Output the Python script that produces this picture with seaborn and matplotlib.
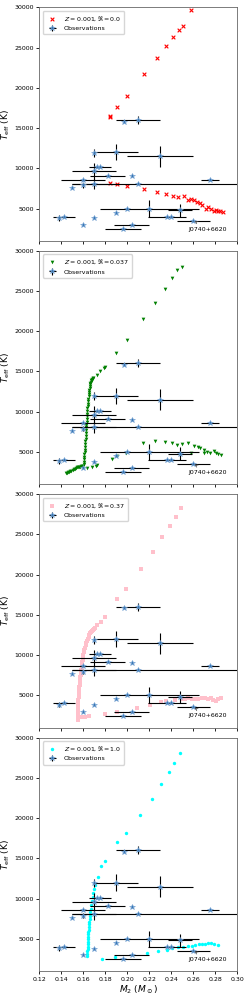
import numpy as np
import seaborn as sns
import matplotlib.pyplot as plt

# observations
obs_m2 = [0.138, 0.142, 0.160, 0.170, 0.190, 0.200, 0.220, 0.196, 0.204, 0.236, 0.240, 0.248, 0.260, 0.275,
          0.210, 0.204, 0.182, 0.172, 0.175, 0.170, 0.170, 0.160, 0.160, 0.150, 0.197, 0.210, 0.170, 0.190, 0.230]
obs_teff = [3850, 4000, 3000, 3800, 4500, 5000, 5000, 2500, 3000, 4000, 4000, 4800, 3500, 8600,
            8100, 9000, 9100, 10100, 10100, 9600, 8100, 8600, 7900, 7600, 15800, 16000, 11900, 12000, 11500]
obs_m2_lo = [0, 0.010, 0, 0, 0, 0, 0.045, 0.016, 0.016, 0.017, 0, 0.011, 0.015, 0.008,
             0.060, 0, 0.016, 0, 0.010, 0.020, 0.020, 0.020, 0, 0, 0, 0.020, 0, 0.020, 0.030]
obs_m2_hi = [0, 0.010, 0, 0, 0, 0, 0.045, 0.016, 0.016, 0.017, 0, 0.011, 0.015, 0.008,
             0.120, 0, 0.016, 0, 0.010, 0.020, 0.020, 0.020, 0, 0, 0, 0.020, 0, 0.020, 0.030]
obs_teff_err = [350, 0, 0, 0, 0, 0, 1000, 0, 0, 0, 0, 800, 0, 0,
                0, 0, 0, 0, 0, 1100, 700, 0, 300, 0, 0, 500, 500, 1000, 1300]

# R = 0.0
r0_up_m2 = [0.1839, 0.1845, 0.1909, 0.2000, 0.2152, 0.2267, 0.2351, 0.2412, 0.2467, 0.2509, 0.2579]
r0_up_teff = [16400, 16500, 17600, 19000, 21650, 23700, 25200, 26300, 27150, 27700, 29700]
r0_lo_m2 = [0.1839, 0.1909, 0.2000, 0.2155, 0.2267, 0.2349, 0.2413, 0.2464, 0.2513, 0.2549, 0.2579, 0.2610,
            0.2634, 0.2658, 0.2682, 0.2713, 0.2736, 0.2760, 0.2785, 0.2806, 0.2827, 0.2845, 0.2867]
r0_lo_teff = [8200, 8000, 7800, 7390, 7100, 6810, 6560, 6440, 6560, 6070, 6240, 6000,
              5820, 5660, 5450, 4880, 5130, 4880, 4750, 4790, 4750, 4750, 4540]

# R = 0.037
r1_track_m2 = [0.1442, 0.1452, 0.1462, 0.1472, 0.1482, 0.1492, 0.1502, 0.1512, 0.1522, 0.1532, 0.1542, 0.1552,
               0.1562, 0.1572, 0.1582, 0.1592, 0.1600, 0.1602, 0.1604, 0.1606, 0.1608, 0.1610, 0.1612, 0.1614,
               0.1615, 0.1617, 0.1618, 0.1620, 0.1621, 0.1623, 0.1624, 0.1626, 0.1627, 0.1629, 0.1630, 0.1632,
               0.1633, 0.1635, 0.1637, 0.1639, 0.1641, 0.1643, 0.1645, 0.1647, 0.1649, 0.1652, 0.1654, 0.1657,
               0.1659, 0.1662, 0.1665, 0.1669, 0.1672, 0.1676, 0.1680, 0.1685, 0.1690]
r1_track_teff = [2350, 2400, 2460, 2520, 2590, 2660, 2740, 2830, 2920, 3010, 3080, 3130,
                 3170, 3190, 3200, 3210, 3300, 3550, 3800, 4100, 4400, 4700, 5000, 5300,
                 5600, 5950, 6300, 6650, 7000, 7350, 7700, 8050, 8400, 8750, 9100, 9420,
                 9750, 10080, 10400, 10700, 11000, 11300, 11600, 11900, 12200, 12450, 12700, 12950,
                 13200, 13400, 13600, 13750, 13900, 14000, 14100, 14150, 14200]
r1_up_m2 = [0.1724, 0.1752, 0.1785, 0.1797, 0.1897, 0.1994, 0.2145, 0.2254, 0.2339, 0.2406, 0.2454, 0.2500]
r1_up_teff = [14610, 15030, 15440, 15600, 17340, 18900, 21500, 23520, 25260, 26580, 27650, 27940]
r1_lo_m2 = [0.1636, 0.1676, 0.1712, 0.1727, 0.1864, 0.1903, 0.1988, 0.2145, 0.2254, 0.2339, 0.2406, 0.2454,
            0.2500, 0.2548, 0.2579, 0.2609, 0.2639, 0.2660, 0.2694, 0.2697, 0.2721, 0.2751, 0.2785, 0.2806,
            0.2827, 0.2851]
r1_lo_teff = [2980, 3150, 3310, 3440, 4180, 4500, 4920, 6120, 6360, 6280, 6070, 5830,
              5950, 6070, 4840, 5740, 5580, 5460, 4920, 5250, 5040, 4840, 5120, 4920,
              4800, 4630]

# R = 0.37
r2_track_m2 = [0.1548, 0.1548, 0.1548, 0.1548, 0.1548, 0.1550, 0.1551, 0.1553, 0.1555, 0.1556, 0.1558, 0.1560,
               0.1561, 0.1563, 0.1564, 0.1567, 0.1570, 0.1572, 0.1573, 0.1576, 0.1579, 0.1582, 0.1585, 0.1588,
               0.1591, 0.1594, 0.1597, 0.1601, 0.1606, 0.1610, 0.1615, 0.1621, 0.1627, 0.1633, 0.1639, 0.1647,
               0.1655, 0.1662, 0.1670, 0.1679, 0.1688, 0.1697, 0.1706]
r2_track_teff = [1900, 2000, 2300, 2600, 2900, 3220, 3540, 3850, 4160, 4470, 4780, 5090,
                 5400, 5700, 6020, 6330, 6650, 6950, 7260, 7570, 7880, 8190, 8500, 8800,
                 9120, 9420, 9730, 10040, 10350, 10660, 10950, 11240, 11530, 11820, 12070, 12310,
                 12520, 12730, 12880, 13020, 13130, 13230, 13390]
r2_up_m2 = [0.1727, 0.1764, 0.1794, 0.1903, 0.1988, 0.2124, 0.2230, 0.2318, 0.2391, 0.2439, 0.2488]
r2_up_teff = [13760, 14170, 14790, 16980, 18270, 20750, 22810, 24630, 26070, 27190, 28310]
r2_lo_m2 = [0.1564, 0.1585, 0.1612, 0.1648, 0.1794, 0.1903, 0.2085, 0.2206, 0.2309, 0.2348, 0.2433, 0.2494,
            0.2524, 0.2554, 0.2585, 0.2615, 0.2645, 0.2676, 0.2706, 0.2736, 0.2757, 0.2782, 0.2806, 0.2827,
            0.2848]
r2_lo_teff = [2270, 2310, 2310, 2400, 2690, 2940, 3430, 3800, 4170, 4340, 4380, 4590,
              4590, 4670, 4590, 4590, 4590, 4670, 4630, 4590, 4630, 4460, 4340, 4590, 4630]

# R = 1.0
r3_track_m2 = [0.1636, 0.1636, 0.1637, 0.1638, 0.1638, 0.1639, 0.1640, 0.1641, 0.1642, 0.1644, 0.1645, 0.1647,
               0.1649, 0.1651, 0.1654, 0.1657, 0.1660, 0.1664, 0.1668, 0.1673, 0.1678, 0.1684, 0.1690, 0.1697,
               0.1705]
r3_track_teff = [2850, 3150, 3450, 3750, 4050, 4350, 4650, 4950, 5250, 5550, 5850, 6150,
                 6450, 6800, 7150, 7500, 7900, 8300, 8750, 9200, 9700, 10200, 10700, 11200, 11700]
r3_up_m2 = [0.1736, 0.1764, 0.1794, 0.1903, 0.1991, 0.2118, 0.2221, 0.2306, 0.2379, 0.2424, 0.2479]
r3_up_teff = [12640, 14090, 14710, 17030, 18180, 20330, 22400, 24260, 25790, 26860, 28060]
r3_lo_m2 = [0.1773, 0.1885, 0.2176, 0.2282, 0.2358, 0.2404, 0.2464, 0.2509, 0.2555, 0.2585, 0.2615, 0.2652,
            0.2676, 0.2706, 0.2730, 0.2761, 0.2791, 0.2827]
r3_lo_teff = [2560, 2730, 3265, 3550, 3670, 3880, 4000, 4000, 4085, 4170, 4250, 4335,
              4420, 4380, 4500, 4460, 4335, 4250]

models = [
    (r0_up_m2 + r0_lo_m2, r0_up_teff + r0_lo_teff, 'x', 'red', 7, r'$Z = 0.001, \Re = 0.0$'),
    (r1_track_m2 + r1_up_m2 + r1_lo_m2, r1_track_teff + r1_up_teff + r1_lo_teff, 'v', 'green', 7,
     r'$Z = 0.001, \Re = 0.037$'),
    (r2_track_m2 + r2_up_m2 + r2_lo_m2, r2_track_teff + r2_up_teff + r2_lo_teff, 's', 'pink', 6,
     r'$Z = 0.001, \Re = 0.37$'),
    (r3_track_m2 + r3_up_m2 + r3_lo_m2, r3_track_teff + r3_up_teff + r3_lo_teff, 'o', 'cyan', 6,
     r'$Z = 0.001, \Re = 1.0$'),
]

fig, axes = plt.subplots(4, 1, sharex=True, figsize=(2.49, 9.97), dpi=100)
plt.subplots_adjust(left=0.158, right=0.953, top=0.9927, bottom=0.026, hspace=0.043)

for ax, (mx, my, mk, col, sz, lab) in zip(axes, models):
    if mk == 'x':
        sns.scatterplot(x=mx, y=my, marker=mk, color=col, s=sz, linewidth=0.8, ax=ax, label=lab)
    else:
        sns.scatterplot(x=mx, y=my, marker=mk, color=col, s=sz, linewidth=0, ax=ax, label=lab)
    ax.errorbar(obs_m2, obs_teff, xerr=[obs_m2_lo, obs_m2_hi], yerr=obs_teff_err, fmt='*',
                color='#3a78b5', ecolor='k', elinewidth=0.8, ms=4, mew=0.4, mec='#7aa6d6',
                label='Observations')
    ax.annotate('J0740+6620', xy=(0.2612, 3450), xytext=(0.2555, 2450), fontsize=4.5,
                va='center', ha='left', arrowprops=dict(arrowstyle='->', lw=0.5, color='0.3'))
    ax.set_xlim(0.12, 0.30)
    ax.set_ylim(1000, 30000)
    ax.set_yticks([5000, 10000, 15000, 20000, 25000, 30000])
    ax.set_ylabel(r'$T_{\rm eff}$ (K)', fontsize=6.5, labelpad=2)
    ax.tick_params(labelsize=4.5, length=2.5, width=0.6, pad=1.5)
    for sp in ax.spines.values():
        sp.set_linewidth(0.6)
        sp.set_color('0.4')
    ax.legend(loc='upper left', fontsize=4.5, borderpad=0.5, handletextpad=0.8, borderaxespad=0.6)

axes[-1].set_xticks(np.arange(0.12, 0.301, 0.02))
axes[-1].set_xlabel(r'$M_2\ (M_\odot)$', fontsize=6.5, labelpad=1)

plt.savefig('out.png', dpi=100)
